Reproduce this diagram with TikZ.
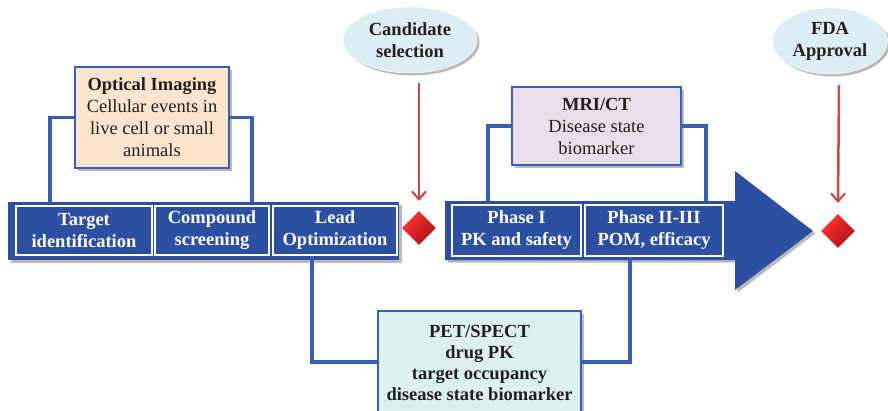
\documentclass[tikz,border=0pt]{standalone}
\usepackage{fontspec}
\setmainfont{Liberation Serif}
\usetikzlibrary{shapes.geometric,arrows.meta,shadows}
\definecolor{barblue}{HTML}{2C4FA1}
\definecolor{lineblue}{HTML}{3A5DB6}
\definecolor{peach}{HTML}{FCE4CE}
\definecolor{lav}{HTML}{E9DEEA}
\definecolor{pcyan}{HTML}{DDF0F0}
\definecolor{ellblue}{HTML}{DCEDF3}
\definecolor{arrred}{HTML}{C24E4B}
\definecolor{diared}{HTML}{D8161C}
\definecolor{txt}{HTML}{231F20}
\tikzset{
  shd/.style={drop shadow={shadow xshift=2.5pt,shadow yshift=-2.5pt,opacity=0.45,fill=black!60}},
  stagebox/.style={draw=white,line width=2.6pt,fill=barblue,text=white,font=\bfseries\fontsize{18.5}{22}\selectfont,align=center,inner sep=0pt},
  infobox/.style={draw=lineblue,line width=2.5pt,align=center,inner sep=0pt,text=txt,shd},
  bubble/.style={ellipse,fill=ellblue,draw=white,line width=0.5pt,text=txt,font=\bfseries\fontsize{18.5}{22}\selectfont,align=center,inner sep=0pt,shd},
  gem/.style={diamond,minimum width=34pt,minimum height=34pt,inner sep=0pt,top color=red!80!white,bottom color=diared!80!black,shading angle=45,draw=none},
  conn/.style={draw=lineblue,line width=3.5pt},
  redarr/.style={draw=arrred,line width=2.5pt,-{Straight Barb[length=8pt,width=14pt,line width=2.2pt]}}
}
\begin{document}
\begin{tikzpicture}[x=1pt,y=-1pt]
\useasboundingbox (0,0) rectangle (888,410);
\fill[white] (0,0) rectangle (888,410);
% coordinates for connector ends
\coordinate (o1) at (50,202);
\coordinate (o2) at (252,202);
\coordinate (m1) at (488,202);
\coordinate (m2) at (706,202);
\coordinate (p1) at (312,362);
\coordinate (p2) at (630,362);
% imaging boxes
\node[infobox,fill=peach,minimum width=154pt,minimum height=101pt,font=\fontsize{18.5}{22}\selectfont] (opt) at (152,117.5) {\textbf{Optical Imaging}\\Cellular events in\\live cell or small\\animals};
\node[infobox,fill=lav,minimum width=169pt,minimum height=78pt,font=\fontsize{18.5}{22}\selectfont] (mri) at (596.5,126) {\textbf{MRI/CT}\\Disease state\\biomarker};
\draw[conn] (opt.west) -| (o1);
\draw[conn] (opt.east) -| (o2);
\draw[conn] (mri.west) -| (m1);
\draw[conn] (mri.east) -| (m2);
% bars
\fill[barblue,shd] (8,202) rectangle (399,260);
\fill[barblue,shd] (445,201) -- (735,201) -- (735,171) -- (813,231) -- (735,290) -- (735,260) -- (445,260) -- cycle;
\node[stagebox,minimum width=136pt,minimum height=49pt] (tid) at (84,230.5) {Target\\identification};
\node[stagebox,minimum width=114pt,minimum height=49pt] (cmp) at (212,230.5) {Compound\\screening};
\node[stagebox,minimum width=124pt,minimum height=49pt] (lead) at (335,230.5) {Lead\\Optimization};
\node[stagebox,minimum width=129pt,minimum height=51pt] (ph1) at (516.5,230.5) {Phase I\\PK and safety};
\node[stagebox,minimum width=138pt,minimum height=51pt] (ph2) at (654,230.5) {Phase II-III\\POM, efficacy};
% PET box
\node[infobox,fill=pcyan,minimum width=203pt,minimum height=104pt,font=\bfseries\fontsize{18.5}{21}\selectfont] (pet) at (479.5,363) {PET/SPECT\\drug PK\\target occupancy\\disease state biomarker};
\draw[conn] (lead.south -| p1) -- (p1) -- (pet.west |- p1);
\draw[conn] (pet.east |- p2) -- (p2) -- (ph2.south -| p2);
% bubbles
\node[bubble,minimum width=134pt,minimum height=66pt] (cand) at (410,40) {Candidate\\selection};
\node[bubble,minimum width=115pt,minimum height=66pt] (fda) at (830,41) {FDA\\Approval};
% diamonds
\node[gem] (d1) at (419,228) {};
\node[gem] (d2) at (838,231) {};
% red arrows
\coordinate (a1) at (419,83);
\coordinate (a2) at (839,85);
\draw[redarr] (a1) -- (d1.north |- 0,201);
\draw[redarr] (a2) -- (d2.north |- 0,203);
\end{tikzpicture}
\end{document}
